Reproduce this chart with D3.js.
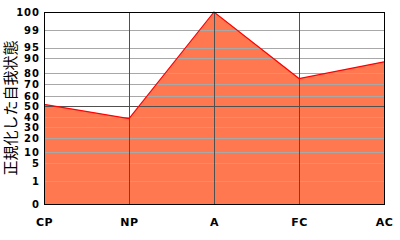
<!DOCTYPE html>
<html><head><meta charset="utf-8">
<script src="https://cdn.jsdelivr.net/npm/d3@7"></script>
<style>body{margin:0;background:#fff}svg{display:block}</style>
</head><body>
<svg id="c" width="400" height="240"></svg>
<script>
const categories = ["CP","NP","A","FC","AC"];
const values = [52, 38.5, 100, 75, 87.5];
const yTicks = [0,1,5,10,20,30,40,50,60,70,80,90,95,99,100];
const yTitle = "正規化した自我状態";

const W=400,H=240, L=44, R=384, T=12, B=204;
const svg = d3.select("#c");
// non-linear (normalized) vertical scale: piecewise positions as fractions of plot height
const fr = [0,0.12,0.214,0.271,0.344,0.401,0.453,0.508,0.563,0.625,0.682,0.76,0.815,0.906,1];
const y = d3.scaleLinear().domain(yTicks).range(fr.map(f=>B-(B-T)*f));
const x = d3.scalePoint().domain(categories).range([L,R]);

// fill area
const area = d3.area().x((d,i)=>x(categories[i])).y0(B).y1(d=>y(d));
svg.append("path").datum(values).attr("d",area).attr("fill","#FF7850");

// horizontal gridlines
svg.append("g").selectAll("line").data(yTicks.filter(t=>t>0&&t<100)).join("line")
  .attr("x1",L).attr("x2",R).attr("y1",d=>Math.round(y(d))+0.5).attr("y2",d=>Math.round(y(d))+0.5)
  .attr("stroke",d=>d===50?"#505050":"#A8A8A8").attr("stroke-width",1).attr("shape-rendering","crispEdges");
// vertical gridlines
svg.append("g").selectAll("line").data(categories.slice(1,-1)).join("line")
  .attr("x1",d=>Math.round(x(d))+0.5).attr("x2",d=>Math.round(x(d))+0.5).attr("y1",T).attr("y2",B)
  .attr("stroke","#505050").attr("shape-rendering","crispEdges");

// red outline
const line = d3.line().x((d,i)=>x(categories[i])).y(d=>y(d));
svg.append("path").datum(values).attr("d",line).attr("fill","none").attr("stroke","#FF0000").attr("stroke-width",1.2);

// frame
svg.append("rect").attr("x",L+0.5).attr("y",T+0.5).attr("width",R-L).attr("height",B-T)
  .attr("fill","none").attr("stroke","#000").attr("shape-rendering","crispEdges");

// y axis tick labels
const ya = d3.axisLeft(y).tickValues(yTicks).tickSize(0).tickPadding(4).tickFormat(d3.format("d"));
const gy = svg.append("g").attr("transform",`translate(${L},0)`).call(ya);
gy.select(".domain").remove();
gy.selectAll("text").attr("font-family","DejaVu Sans").attr("font-weight","bold").attr("font-size",10)
  .attr("letter-spacing",1).attr("fill","#000");

// x axis labels
const xa = d3.axisBottom(x).tickSize(0).tickPadding(14);
const gx = svg.append("g").attr("transform",`translate(0,${B})`).call(xa);
gx.select(".domain").remove();
gx.selectAll("text").attr("font-family","DejaVu Sans").attr("font-weight","bold").attr("font-size",11)
  .attr("letter-spacing",0.5).attr("fill","#000");

// y title
svg.append("text").attr("transform","translate(16,108) rotate(-90)").attr("text-anchor","middle")
  .attr("font-family","Noto Sans CJK JP").attr("font-size",15).attr("fill","#000").text(yTitle);
</script>
</body></html>
